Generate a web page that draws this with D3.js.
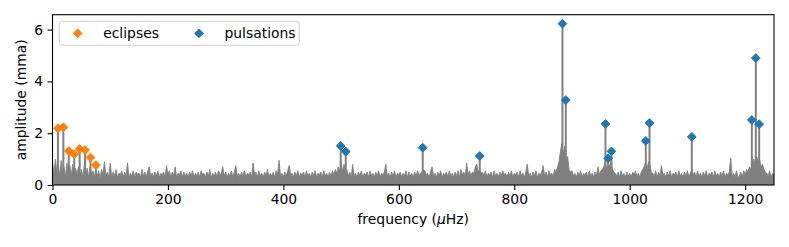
<!DOCTYPE html>
<html>
<head>
<meta charset="utf-8">
<script src="https://cdn.jsdelivr.net/npm/d3@7"></script>
<style>
  html, body { margin: 0; padding: 0; background: #fff; }
  svg { display: block; font-family: "DejaVu Sans", sans-serif; }
</style>
</head>
<body>
<svg id="chart" width="789" height="247"></svg>
<script>
// ---- data ----
const eclipseFreq = [9.4, 18.8, 28.2, 37.6, 47.0, 56.4, 65.8, 75.2];
const eclipseAmp  = [2.19, 2.23, 1.31, 1.19, 1.39, 1.35, 1.06, 0.77];

const pulsationFreq = [499.3, 508.0, 641.4, 740.2, 883.5, 889.3, 958.0, 962.6, 968.4, 1027.9, 1034.3, 1107.6, 1211.6, 1218.5, 1224.3];
const pulsationAmp  = [1.51, 1.29, 1.44, 1.12, 6.23, 3.28, 2.36, 1.03, 1.30, 1.70, 2.39, 1.86, 2.51, 4.90, 2.35];

// noise of the amplitude spectrum, one value per 2.5 µHz bin from 0 to 1250 µHz
const noiseStart = 0;
const noiseStep = 2.5;
const noiseAmp = [
  0.9,0.4,1.0,0.5,0.8,0.35,0.95,0.45,0.7,0.3,0.85,0.4,0.75,0.35,0.8,0.3,0.65,0.4,0.7,0.35,
  0.6,0.3,0.75,0.35,0.65,0.3,0.7,0.4,0.55,0.3,0.6,0.35,0.55,0.25,0.6,0.4,0.9,0.35,0.5,0.3,
  0.85,0.3,0.5,0.35,0.6,0.3,0.45,0.4,0.55,0.3,0.5,0.35,0.85,0.3,0.45,0.35,0.55,0.3,0.5,0.4,
  0.45,0.3,0.6,0.35,0.5,0.3,0.55,0.7,0.35,0.45,0.3,0.5,0.35,0.55,0.3,0.45,0.4,0.5,0.3,0.75,
  0.4,0.55,0.3,0.5,0.35,0.7,0.3,0.45,0.4,0.55,0.3,0.5,0.35,0.45,0.3,0.5,0.35,0.55,0.3,0.45,
  0.35,0.5,0.3,0.55,0.4,0.45,0.3,0.5,0.35,0.6,0.3,0.45,0.35,0.5,0.3,0.55,0.4,0.45,0.7,0.35,
  0.5,0.3,0.45,0.35,0.55,0.3,0.5,0.75,0.35,0.45,0.3,0.5,0.35,0.55,0.3,0.45,0.4,0.5,0.3,0.85,
  0.4,0.5,0.3,0.55,0.35,0.45,0.3,0.5,0.35,0.6,0.3,0.45,0.35,0.5,0.3,0.55,0.4,0.95,0.35,0.45,
  0.3,0.5,0.35,0.55,0.75,0.4,0.45,0.3,0.5,0.35,0.55,0.3,0.45,0.4,0.5,0.3,0.55,0.35,0.45,0.3,
  0.5,0.35,0.55,0.3,0.45,0.4,0.5,0.3,0.55,0.35,0.45,0.3,0.5,0.35,0.55,0.4,0.6,0.45,0.7,0.5,
  0.9,0.5,0.8,0.45,0.6,0.35,0.5,0.3,0.8,0.35,0.45,0.3,0.5,0.35,0.55,0.3,0.45,0.4,0.5,0.3,
  0.55,0.35,0.45,0.3,0.5,0.35,0.55,0.3,0.45,0.4,0.5,0.8,0.35,0.45,0.3,0.5,0.35,0.55,0.3,0.45,
  0.4,0.5,0.3,0.45,0.35,0.55,0.3,0.5,0.35,0.45,0.3,0.5,0.35,0.55,0.4,0.45,0.5,0.6,0.55,0.4,
  0.45,0.3,0.5,0.7,0.35,0.45,0.3,0.5,0.35,0.55,0.3,0.45,0.4,0.5,0.3,0.55,0.35,0.45,0.3,0.5,
  0.35,0.55,0.3,0.6,0.4,0.5,0.35,0.85,0.4,0.55,0.35,0.5,0.45,0.7,0.8,0.5,0.6,0.45,0.5,0.35,
  0.55,0.3,0.45,0.4,0.5,0.3,0.55,0.35,0.45,0.3,0.5,0.35,0.55,0.4,0.45,0.3,0.5,0.35,0.55,0.3,
  0.45,0.4,0.5,0.3,0.55,0.35,0.45,0.3,0.5,0.8,0.35,0.45,0.3,0.5,0.35,0.55,0.3,0.45,0.4,0.5,
  0.75,0.35,0.5,0.3,0.55,0.4,0.45,0.35,0.6,0.5,0.7,0.9,1.3,1.6,1.2,1.5,0.9,1.1,0.6,0.5,
  0.55,0.35,0.45,0.3,0.5,0.35,0.55,0.3,0.45,0.4,0.5,0.3,0.55,0.35,0.45,0.3,0.5,0.35,0.7,0.4,
  0.55,0.6,0.7,0.9,0.6,0.85,0.7,0.9,0.6,0.5,0.45,0.35,0.5,0.3,0.55,0.35,0.45,0.3,0.5,0.35,
  0.45,0.3,0.5,0.4,0.55,0.35,0.45,0.3,0.5,0.6,0.7,0.85,0.6,0.9,0.8,0.5,0.45,0.35,0.55,0.3,
  0.5,0.35,0.75,0.4,0.45,0.3,0.5,0.35,0.55,0.3,0.45,0.4,0.5,0.3,0.55,0.35,0.45,0.3,0.5,0.35,
  0.55,0.3,0.45,0.6,0.4,0.5,0.3,0.55,0.35,0.45,0.3,0.5,0.35,0.55,0.3,0.45,0.4,0.5,0.3,0.55,
  0.35,0.45,0.3,0.5,0.35,0.55,0.3,0.45,0.4,0.5,1.05,0.35,0.45,0.3,0.55,0.3,0.35,0.5,0.3,0.55,
  0.4,0.6,0.5,0.7,0.6,0.9,1.0,0.8,1.1,0.9,1.0,0.7,0.8,0.6,0.5,0.45,0.35,0.55,0.3,0.45,
  0.4
];

const xTicks = [0, 200, 400, 600, 800, 1000, 1200];
const yTicks = [0, 2, 4, 6];
const legendLabels = ["eclipses", "pulsations"];

// ---- layout ----
const svg = d3.select("#chart");
const L = 52.5, R = 774, T = 14.7, B = 185;
const x = d3.scaleLinear().domain([0, 1250]).range([L, R]);
const y = d3.scaleLinear().domain([0, 6.575]).range([B, T]);
const grey = "#808080", orange = "#ff7f0e", blue = "#1f77b4";
const fs = 13.9;

svg.append("defs").append("clipPath").attr("id", "clip")
  .append("rect").attr("x", L).attr("y", T).attr("width", R - L).attr("height", B - T);

const plot = svg.append("g").attr("clip-path", "url(#clip)");

const noise = noiseAmp.map((a, i) => ({ f: noiseStart + i * noiseStep, a }));

plot.append("path")
  .datum(noise)
  .attr("d", d3.area().x(d => x(d.f)).y0(y(0)).y1(d => y(d.a)))
  .attr("fill", grey)
  .attr("stroke", grey)
  .attr("stroke-width", 0.9)
  .attr("stroke-linejoin", "miter");

const peaks = eclipseFreq.map((f, i) => ({ f, a: eclipseAmp[i] }))
  .concat(pulsationFreq.map((f, i) => ({ f, a: pulsationAmp[i] })));

plot.selectAll("line.stem").data(peaks).enter().append("line")
  .attr("class", "stem")
  .attr("x1", d => x(d.f)).attr("x2", d => x(d.f))
  .attr("y1", y(0)).attr("y2", d => y(d.a))
  .attr("stroke", grey).attr("stroke-width", 2);

const hd = 4.4;
const diamond = (cx, cy) => `M${cx},${cy - hd}L${cx + hd},${cy}L${cx},${cy + hd}L${cx - hd},${cy}Z`;

svg.append("g").selectAll("path").data(eclipseFreq).enter().append("path")
  .attr("d", (f, i) => diamond(x(f), y(eclipseAmp[i])))
  .attr("fill", orange).attr("stroke", orange).attr("stroke-width", 1);

svg.append("g").selectAll("path").data(pulsationFreq).enter().append("path")
  .attr("d", (f, i) => diamond(x(f), y(pulsationAmp[i])))
  .attr("fill", blue).attr("stroke", blue).attr("stroke-width", 1);

// ---- axes ----
const xAxis = d3.axisBottom(x).tickValues(xTicks).tickSize(4.9).tickPadding(4.5).tickFormat(d3.format("d"));
const yAxis = d3.axisLeft(y).tickValues(yTicks).tickSize(4.9).tickPadding(4.5).tickFormat(d3.format("d"));

const gx = svg.append("g").attr("transform", `translate(0,${B})`).call(xAxis);
const gy = svg.append("g").attr("transform", `translate(${L},0)`).call(yAxis);
[gx, gy].forEach(g => {
  g.select(".domain").remove();
  g.selectAll("line").attr("stroke", "#000").attr("stroke-width", 1.1);
  g.selectAll("text").attr("font-size", fs).attr("fill", "#000").attr("font-family", "DejaVu Sans");
});

// spines
svg.append("rect").attr("x", L).attr("y", T).attr("width", R - L).attr("height", B - T)
  .attr("fill", "none").attr("stroke", "#000").attr("stroke-width", 1.1);

// axis labels
const xl = svg.append("text").attr("x", (L + R) / 2).attr("y", 224).attr("text-anchor", "middle")
  .attr("font-size", fs).attr("fill", "#000");
xl.append("tspan").text("frequency (");
xl.append("tspan").attr("font-style", "italic").text("\u03bc");
xl.append("tspan").text("Hz)");

svg.append("text").attr("transform", `translate(26,${(T + B) / 2}) rotate(-90)`)
  .attr("text-anchor", "middle").attr("font-size", fs).attr("fill", "#000")
  .text("amplitude (mma)");

// ---- legend ----
const lg = svg.append("g");
lg.append("rect").attr("x", 59.3).attr("y", 21.3).attr("width", 240).attr("height", 24)
  .attr("rx", 3).attr("fill", "#fff").attr("fill-opacity", 0.8)
  .attr("stroke", "#cccccc").attr("stroke-width", 1);
const legendColors = [orange, blue];
const legendMarkX = [77.7, 199];
legendLabels.forEach((lab, i) => {
  lg.append("path").attr("d", diamond(legendMarkX[i], 33.3))
    .attr("fill", legendColors[i]).attr("stroke", legendColors[i]).attr("stroke-width", 1);
  lg.append("text").attr("x", legendMarkX[i] + 25.5).attr("y", 38.2)
    .attr("font-size", fs).attr("fill", "#000").text(lab);
});
</script>
</body>
</html>
